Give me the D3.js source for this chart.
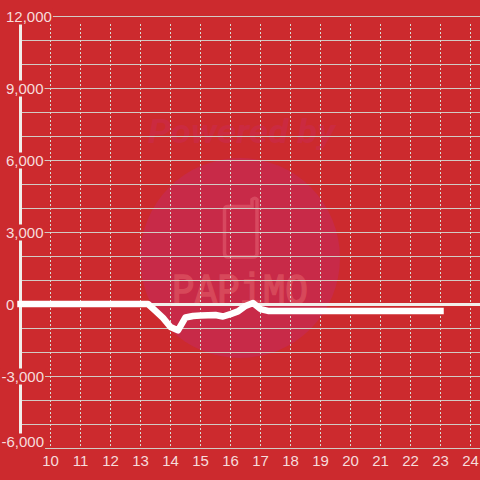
<!DOCTYPE html>
<html>
<head>
<meta charset="utf-8">
<script src="https://cdn.jsdelivr.net/npm/d3@7"></script>
<style>
  html, body { margin: 0; padding: 0; background: #cc2a2e; }
  svg { display: block; }
</style>
</head>
<body>
<div id="chart"></div>
<script>
const hours = [9, 13.25, 13.5, 13.75, 14, 14.25, 14.5, 14.75, 15, 15.5, 15.75, 16, 16.25, 16.5, 16.75, 17, 17.25, 23];
const values = [0, 0, -290, -580, -960, -1100, -560, -500, -480, -460, -520, -420, -310, -80, 40, -210, -290, -290];
const xTicks = [10, 11, 12, 13, 14, 15, 16, 17, 18, 19, 20, 21, 22, 23, 24];
const yLabels = [12000, 9000, 6000, 3000, 0, -3000, -6000];
const yGrid = d3.range(-6000, 12001, 1000);

const width = 480;
const height = 480;
const red = "#cc2a2e";

const x = d3.scaleLinear().domain([9, 24]).range([20, 470]);
const y = d3.scaleLinear().domain([-6000, 12000]).range([448, 16]);

const svg = d3.select("#chart").append("svg")
    .attr("width", width)
    .attr("height", height)
    .attr("font-family", "'Liberation Sans', sans-serif");

svg.append("rect").attr("width", width).attr("height", height).attr("fill", red);

// watermark sits behind the grid
const mark = svg.append("g");
mark.append("circle")
    .attr("cx", 240).attr("cy", 258).attr("r", 100)
    .attr("fill", "#c82a48");
mark.append("text")
    .attr("x", 148).attr("y", 143)
    .attr("textLength", 187)
    .attr("lengthAdjust", "spacingAndGlyphs")
    .attr("font-family", "Roboto, sans-serif")
    .attr("font-size", 33)
    .attr("font-weight", "bold")
    .attr("font-style", "italic")
    .attr("fill", "#cb2a40")
    .text("Powered by");
mark.append("path")
    .attr("d", "M228,206.5H252V199.5Q255,197 257,199.5V254Q257,257 253,257H228Q224.5,257 224.5,253V210Q224.5,206.5 228,206.5Z")
    .attr("fill", "none")
    .attr("stroke", "#d7485f")
    .attr("stroke-width", 3.5);
mark.append("text")
    .attr("x", 172).attr("y", 304)
    .attr("textLength", 136)
    .attr("lengthAdjust", "spacingAndGlyphs")
    .attr("font-family", "'Liberation Mono', monospace")
    .attr("font-size", 44)
    .attr("fill", "#d7485a")
    .attr("stroke", "#d7485a")
    .attr("stroke-width", 1.5)
    .text("PAPiMO");

// horizontal grid
svg.append("g")
    .attr("transform", `translate(${x(9)},0)`)
    .call(d3.axisLeft(y).tickValues(yGrid).tickSize(-(width - x(9))).tickFormat(""))
    .call(g => g.select(".domain").remove())
    .call(g => g.selectAll("line").attr("stroke", "#d2cac4").attr("stroke-width", 1));

// vertical dashed grid, stops short of the top and bottom lines
svg.append("g")
    .attr("transform", "translate(0,446)")
    .call(d3.axisBottom(x).tickValues(xTicks).tickSize(-422).tickFormat(""))
    .call(g => g.select(".domain").remove())
    .call(g => g.selectAll("line")
      .attr("stroke", "#d8dcd4")
      .attr("stroke-width", 1)
      .attr("stroke-dasharray", "2,2"));

// y axis line, the label boxes cut it
svg.append("line")
    .attr("x1", x(9) + 0.5).attr("x2", x(9) + 0.5)
    .attr("y1", y(12000)).attr("y2", y(-6000))
    .attr("stroke", "#f1eeea")
    .attr("stroke-width", 3);

// zero line
svg.append("line")
    .attr("x1", x(9)).attr("x2", width)
    .attr("y1", y(0) + 0.5).attr("y2", y(0) + 0.5)
    .attr("stroke", "#f1eeea")
    .attr("stroke-width", 3);

const line = d3.line()
    .x((d, i) => x(hours[i]) + 0.5)
    .y(d => y(d));

svg.append("path")
    .datum(values)
    .attr("d", line)
    .attr("fill", "none")
    .attr("stroke", "#fff")
    .attr("stroke-width", 6.5)
    .attr("stroke-linecap", "square")
    .attr("stroke-linejoin", "round");

// y labels have a red box behind them that cuts the grid and axis line
const yAxis = svg.append("g")
    .call(d3.axisLeft(y)
      .tickValues(yLabels)
      .tickSize(0)
      .tickFormat(d => d3.format(",")(d).replace("\u2212", "-")))
    .call(g => g.select(".domain").remove())
    .call(g => g.selectAll("text")
      .attr("x", d => d < 0 ? 1.5 : 6)
      .attr("y", d => d === d3.min(yLabels) ? -7 : 0)
      .attr("dy", "0.35em")
      .attr("text-anchor", "start")
      .attr("font-size", 15)
      .attr("font-family", "'Liberation Sans', sans-serif")
      .attr("fill", "#f6dcdc"));

yAxis.selectAll(".tick").each(function(d) {
  const tick = d3.select(this);
  const box = tick.select("text").node().getBBox();
  tick.insert("rect", "text")
      .attr("x", box.x - 1)
      .attr("y", d === d3.min(yLabels) ? -15 : -8)
      .attr("width", box.width + 2)
      .attr("height", 16)
      .attr("fill", red);
});

svg.append("g")
    .attr("transform", "translate(0,448)")
    .call(d3.axisBottom(x).tickValues(xTicks).tickSize(0).tickPadding(7))
    .call(g => g.select(".domain").remove())
    .call(g => g.selectAll("text")
      .attr("font-size", 15)
      .attr("font-family", "'Liberation Sans', sans-serif")
      .attr("fill", "#f6dcdc"));
</script>
</body>
</html>
